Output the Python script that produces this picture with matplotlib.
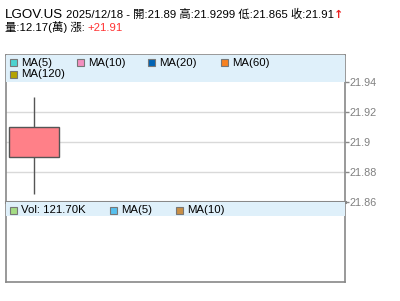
import matplotlib
matplotlib.use("Agg")
import matplotlib.pyplot as plt
from matplotlib.patches import Rectangle

# ===============================
# data
# ===============================
dates = ["2025/12/18"]
open_px = [21.89]
high_px = [21.9299]
low_px = [21.865]
close_px = [21.91]
volume = [121.70]          # K shares
yticks = [21.86, 21.88, 21.9, 21.92, 21.94]
ytick_labels = ["21.86", "21.88", "21.9", "21.92", "21.94"]

ma_names = ["MA(5)", "MA(10)", "MA(20)", "MA(60)", "MA(120)"]
ma_colors = ["#4cd3d0", "#f38fbf", "#0063b4", "#f7811f", "#b5a300"]
vol_names = ["Vol: 121.70K", "MA(5)", "MA(10)"]
vol_colors = ["#a4dc84", "#57c0ee", "#c98f45"]

FONT = ["Liberation Sans", "Noto Sans CJK TC", "DejaVu Sans"]
plt.rcParams['font.family'] = FONT

W, H = 400, 301
fig = plt.figure(figsize=(W / 100, H / 100), dpi=100)


def fx(x):
    return x / W


def fy(y):
    return 1 - y / H


def box(x0, y0, x1, y1):
    return [fx(x0), fy(y1), fx(x1) - fx(x0), fy(y0) - fy(y1)]


frame = "#888888"
band = "#dff0fa"
small = 8.2

# ===============================
# title
# ===============================
fig.text(fx(5), fy(18), "LGOV.US", fontsize=9.6, color="black", va="baseline")
fig.text(fx(66), fy(18), "2025/12/18 - 開:21.89 高:21.9299 低:21.865 收:21.91",
         fontsize=small, color="black", va="baseline")
fig.text(fx(334), fy(18), "↑", fontsize=8, color="#ee2222", va="baseline",
         fontweight="bold", family=["DejaVu Sans"])
fig.text(fx(5), fy(31), "量:12.17(萬) 漲:", fontsize=small, color="black", va="baseline")
fig.text(fx(87), fy(31), "+21.91", fontsize=small, color="#ff3333", va="baseline")

# ===============================
# main (price) panel
# ===============================
ax = fig.add_axes(box(6, 55, 345, 202))
ax.set_xlim(-0.55, 6.2)
top = 21.86 + (201.7 - 55) / 1500
ax.set_ylim(21.86, top)

for y in yticks[1:4]:
    ax.axhline(y, color="#d9d9d9", lw=1, zorder=0)

xs = list(range(len(dates)))
ax.vlines(xs, low_px, high_px, color="#555555", lw=1, zorder=2)
ax.bar(xs, [c - o for o, c in zip(open_px, close_px)], bottom=open_px, width=1.0,
       color="#ff8088", edgecolor="#555555", lw=1, zorder=3)

ax.add_patch(Rectangle((0, 1 - 27 / 147), 1, 27 / 147, transform=ax.transAxes,
                       color=band, zorder=4, lw=0))

ax.yaxis.tick_right()
ax.set_yticks(yticks)
ax.set_yticklabels(ytick_labels)
ax.tick_params(axis="y", colors=frame, labelcolor="#808080", labelsize=7.8,
               length=3, width=1, pad=0.5)
ax.tick_params(axis="x", bottom=False, labelbottom=False)
for s in ax.spines.values():
    s.set_color(frame)
    s.set_linewidth(1.2)
ax.spines["bottom"].set_linewidth(2.2)

# legend entries (price)
lx = [10, 77, 148, 221, 10]
ly = [63, 63, 63, 63, 74]
for name, col, x, y in zip(ma_names, ma_colors, lx, ly):
    fig.patches.append(Rectangle((fx(x), fy(y + 3.5)), 7 / W, 7 / H,
                                 transform=fig.transFigure, facecolor=col,
                                 edgecolor="#777777", lw=0.8, zorder=10))
    fig.text(fx(x + 11), fy(y), name, fontsize=small, va="center", zorder=11)

# ===============================
# volume panel
# ===============================
axv = fig.add_axes(box(6, 202, 345, 282))
axv.set_xlim(-0.55, 6.2)
axv.set_ylim(0, 1)
axv.set_xticks([])
axv.set_yticks([])
axv.add_patch(Rectangle((0, 1 - 14 / 80), 1, 14 / 80, transform=axv.transAxes,
                        color=band, zorder=4, lw=0))
for s in axv.spines.values():
    s.set_color(frame)
    s.set_linewidth(1.2)
axv.spines["top"].set_visible(False)

vx = [10, 110, 176]
for name, col, x in zip(vol_names, vol_colors, vx):
    fig.patches.append(Rectangle((fx(x), fy(210 + 3.5)), 7 / W, 7 / H,
                                 transform=fig.transFigure, facecolor=col,
                                 edgecolor="#777777", lw=0.8, zorder=10))
    fig.text(fx(x + 11), fy(210), name, fontsize=small, va="center", zorder=11)

plt.savefig("out.png", dpi=100)
